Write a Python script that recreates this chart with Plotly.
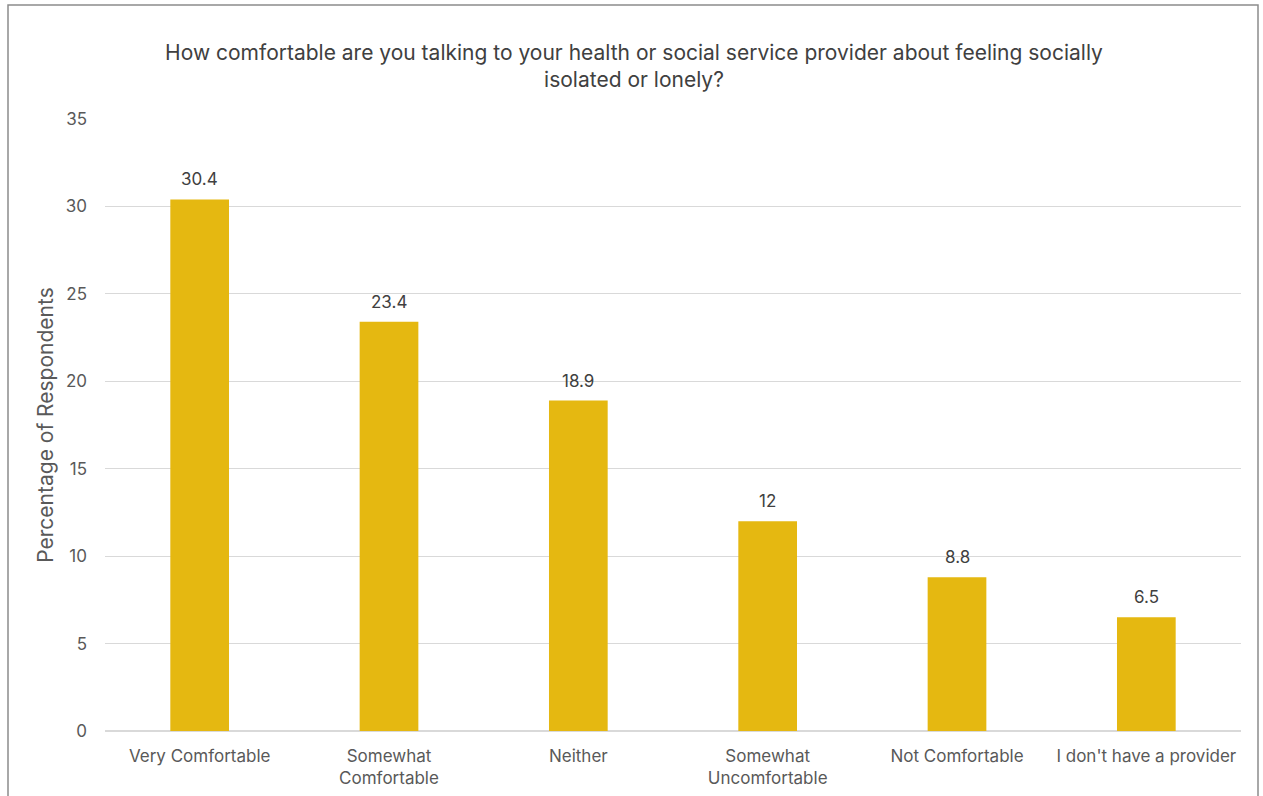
import plotly.graph_objects as go

categories = ["Very Comfortable", "Somewhat<br>Comfortable", "Neither",
              "Somewhat<br>Uncomfortable", "Not Comfortable", "I don't have a provider"]
values = [30.4, 23.4, 18.9, 12, 8.8, 6.5]
labels = ["30.4", "23.4", "18.9", "12", "8.8", "6.5"]
y_ticks = [0, 5, 10, 15, 20, 25, 30, 35]

FONT = "Inter, Noto Sans, sans-serif"

fig = go.Figure(go.Bar(
    x=categories, y=values,
    marker=dict(color="#E5B811", line=dict(width=0)),
))

for c, v, t in zip(categories, values, labels):
    fig.add_annotation(x=c, y=v, text=t, showarrow=False, yanchor="bottom",
                       yshift=8, font=dict(size=17, color="#404040"))

W, H = 1263, 796
L, R, T, B = 105, 22, 119, 65
pw, ph = W - L - R, H - T - B

def px_x(p):
    return (p - L) / pw

def px_y(p):
    return (H - B - p) / ph

fig.update_layout(
    width=W, height=H,
    margin=dict(l=L, r=R, t=T, b=B, autoexpand=False),
    plot_bgcolor="white", paper_bgcolor="white",
    font=dict(family=FONT, color="#595959"),
    title=dict(
        text="How comfortable are you talking to your health or social service provider about feeling socially<br>isolated or lonely?",
        x=634 / W, xref="container", xanchor="center",
        y=1 - 60 / H, yref="container", yanchor="middle",
        font=dict(size=21, color="#404040"),
    ),
    bargap=0.69,
    showlegend=False,
    shapes=[dict(type="rect", xref="paper", yref="paper",
                 x0=px_x(8), x1=px_x(1258), y0=px_y(830), y1=px_y(5),
                 line=dict(color="#8c8c8c", width=1.5), fillcolor="rgba(0,0,0,0)",
                 layer="below")],
)
fig.update_xaxes(
    tickfont=dict(size=17, color="#595959"), automargin=False,
    showline=False, showgrid=False, ticks="", ticklabelstandoff=13,
)
fig.update_yaxes(
    range=[0, 35], tickvals=y_ticks, automargin=False,
    tickfont=dict(size=17, color="#595959"),
    showgrid=True, gridcolor="#d9d9d9", gridwidth=1,
    zeroline=True, zerolinecolor="#d9d9d9", zerolinewidth=1.5,
    showline=False, ticks="", ticklabelstandoff=17,
    title=dict(text="Percentage of Respondents", font=dict(size=21, color="#595959"), standoff=6),
)

fig.write_html("out.html", config={"displayModeBar": False},
               post_script="document.body.style.margin='0';document.body.style.overflow='hidden';")
